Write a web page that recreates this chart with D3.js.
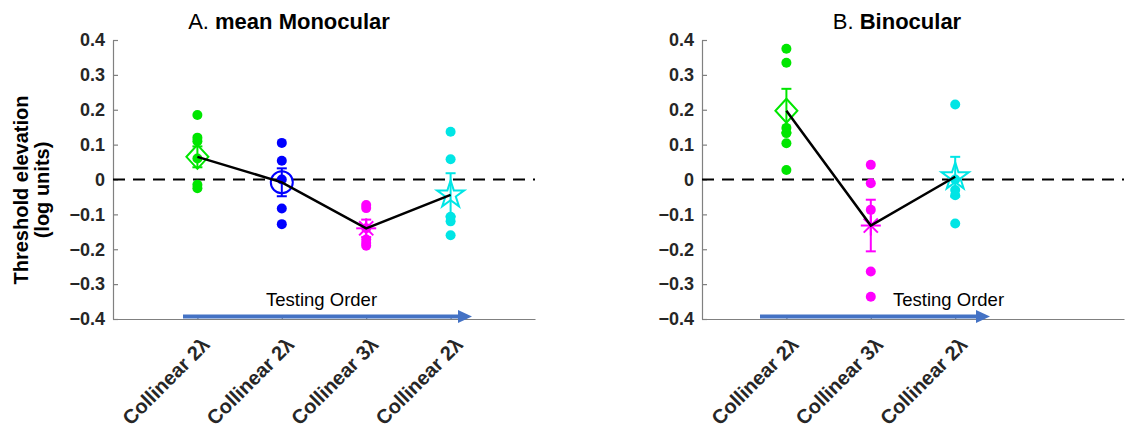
<!DOCTYPE html>
<html lang="en">
<head>
<meta charset="utf-8">
<title>Threshold elevation</title>
<script src="https://cdn.jsdelivr.net/npm/d3@7"></script>
<style>
  body { margin: 0; background: #fff; }
  svg text { font-family: "Liberation Sans", Arial, sans-serif; fill: #000; }
  .axis path, .axis line { stroke: #808080; stroke-width: 1.2; fill: none; }
  .axis text { font-size: 18px; font-weight: bold; fill: #262626; }
  .axis.x text { font-size: 20px; }
</style>
</head>
<body>
<script>
// ---- data ----
var yTicks = [0.4, 0.3, 0.2, 0.1, 0, -0.1, -0.2, -0.3, -0.4];

var catsA = ["Collinear 2λ", "Collinear 2λ", "Collinear 3λ", "Collinear 2λ"];
var meansA = [0.065, -0.008, -0.14, -0.044];
var semsA = [0.03, 0.04, 0.025, 0.062];
var pointsA = [
  [0.185, 0.12, 0.11, 0.06, -0.015, -0.025],
  [0.105, 0.054, 0.0, -0.083, -0.128],
  [-0.073, -0.082, -0.14, -0.172, -0.182, -0.19],
  [0.137, 0.058, -0.107, -0.12, -0.16]
];

var catsB = ["Collinear 2λ", "Collinear 3λ", "Collinear 2λ"];
var meansB = [0.197, -0.132, 0.008];
var semsB = [0.063, 0.074, 0.057];
var pointsB = [
  [0.375, 0.335, 0.148, 0.133, 0.104, 0.027],
  [0.042, -0.011, -0.087, -0.264, -0.336],
  [0.215, 0.0, -0.03, -0.045, -0.126]
];

var W = 1143, H = 437;
var svg = d3.select("body").append("svg").attr("width", W).attr("height", H);

var y = d3.scaleLinear().domain([-0.4, 0.4]).range([319, 40]);

function drawMarker(g, type, color) {
  var s = g.append("g");
  if (type === "diamond") {
    s.append("path").attr("d", "M0,-12L11,0L0,12L-11,0Z")
      .attr("fill", "none").attr("stroke", color).attr("stroke-width", 2);
  } else if (type === "circle") {
    s.append("circle").attr("r", 11)
      .attr("fill", "none").attr("stroke", color).attr("stroke-width", 2);
  } else if (type === "asterisk") {
    [0, 45, 90, 135].forEach(function (a) {
      s.append("line").attr("x1", -10).attr("x2", 10)
        .attr("transform", "rotate(" + a + ")")
        .attr("stroke", color).attr("stroke-width", 2);
    });
  } else if (type === "star") {
    s.append("path").attr("d", d3.symbol().type(d3.symbolStar).size(230)())
      .attr("fill", "none").attr("stroke", color).attr("stroke-width", 2);
  }
}

function panel(opt) {
  var x = d3.scaleLinear().domain([0, 5]).range([opt.left, opt.left + 422]);
  var g = svg.append("g");

  // title
  var t = g.append("text").attr("x", opt.titleX).attr("y", 29)
    .attr("text-anchor", "middle").style("font-size", "22px");
  t.append("tspan").text(opt.letter + " ");
  t.append("tspan").style("font-weight", "bold").text(opt.title);

  // y axis
  g.append("g").attr("class", "axis")
    .attr("transform", "translate(" + opt.left + ",0)")
    .call(d3.axisLeft(y).tickValues(yTicks).tickSizeInner(-5).tickSizeOuter(0)
      .tickPadding(8).tickFormat(function (d) { return d === 0 ? "0" : d3.format(".1f")(d); }));

  // x axis
  var xa = g.append("g").attr("class", "axis x")
    .attr("transform", "translate(0," + y(-0.4) + ")")
    .call(d3.axisBottom(x).tickValues(d3.range(1, opt.cats.length + 1))
      .tickSizeInner(-4).tickSizeOuter(0).tickFormat(function (d) { return opt.cats[d - 1]; }));
  xa.selectAll("text")
    .attr("text-anchor", "end")
    .attr("dy", null).attr("y", null)
    .attr("transform", "translate(13,27) rotate(-45)");

  // zero line
  g.append("line").attr("x1", x(0)).attr("x2", x(5))
    .attr("y1", y(0)).attr("y2", y(0))
    .attr("stroke", "#000").attr("stroke-width", 2).attr("stroke-dasharray", "12,8");

  // testing order arrow
  g.append("line").attr("x1", opt.arrow[0]).attr("x2", opt.arrow[1] - 12)
    .attr("y1", 316.5).attr("y2", 316.5)
    .attr("stroke", "#4472C4").attr("stroke-width", 4);
  g.append("path")
    .attr("d", "M" + (opt.arrow[1] - 14) + "," + 310 + "L" + opt.arrow[1] + ",316.5L" + (opt.arrow[1] - 14) + ",323Z")
    .attr("fill", "#4472C4");
  g.append("text").attr("x", opt.textX).attr("y", 306)
    .style("font-size", "18.5px").text("Testing Order");

  // individual points
  opt.points.forEach(function (pts, i) {
    g.selectAll(null).data(pts).enter().append("circle")
      .attr("cx", x(i + 1)).attr("cy", function (d) { return y(d); })
      .attr("r", 5).attr("fill", opt.colors[i]);
  });

  // error bars
  opt.means.forEach(function (m, i) {
    var cx = x(i + 1), c = opt.colors[i];
    g.append("line").attr("x1", cx).attr("x2", cx)
      .attr("y1", y(m + opt.sems[i])).attr("y2", y(m - opt.sems[i]))
      .attr("stroke", c).attr("stroke-width", 2);
    [m + opt.sems[i], m - opt.sems[i]].forEach(function (v) {
      g.append("line").attr("x1", cx - 5).attr("x2", cx + 5)
        .attr("y1", y(v)).attr("y2", y(v)).attr("stroke", c).attr("stroke-width", 2);
    });
  });

  // mean markers
  opt.means.forEach(function (m, i) {
    var mg = g.append("g").attr("transform", "translate(" + x(i + 1) + "," + y(m) + ")");
    drawMarker(mg, opt.markers[i], opt.colors[i]);
  });

  // mean line
  g.append("path").datum(opt.means)
    .attr("d", d3.line().x(function (d, i) { return x(i + 1); }).y(function (d) { return y(d); }))
    .attr("fill", "none").attr("stroke", "#000").attr("stroke-width", 2.5);
}

panel({
  left: 113, letter: "A.", title: "mean Monocular", titleX: 289,
  cats: catsA, means: meansA, sems: semsA, points: pointsA,
  colors: ["#00e600", "#0000ff", "#ff00ff", "#00e5e5"],
  markers: ["diamond", "circle", "asterisk", "star"],
  arrow: [183, 472], textX: 266
});

panel({
  left: 702, letter: "B.", title: "Binocular", titleX: 897,
  cats: catsB, means: meansB, sems: semsB, points: pointsB,
  colors: ["#00e600", "#ff00ff", "#00e5e5"],
  markers: ["diamond", "asterisk", "star"],
  arrow: [760, 990], textX: 893
});

// y axis title
svg.append("text")
  .attr("transform", "translate(28,190) rotate(-90)")
  .attr("text-anchor", "middle").style("font-size", "20px").style("font-weight", "bold")
  .text("Threshold elevation");
svg.append("text")
  .attr("transform", "translate(49,190) rotate(-90)")
  .attr("text-anchor", "middle").style("font-size", "20px").style("font-weight", "bold")
  .text("(log units)");
</script>
</body>
</html>
